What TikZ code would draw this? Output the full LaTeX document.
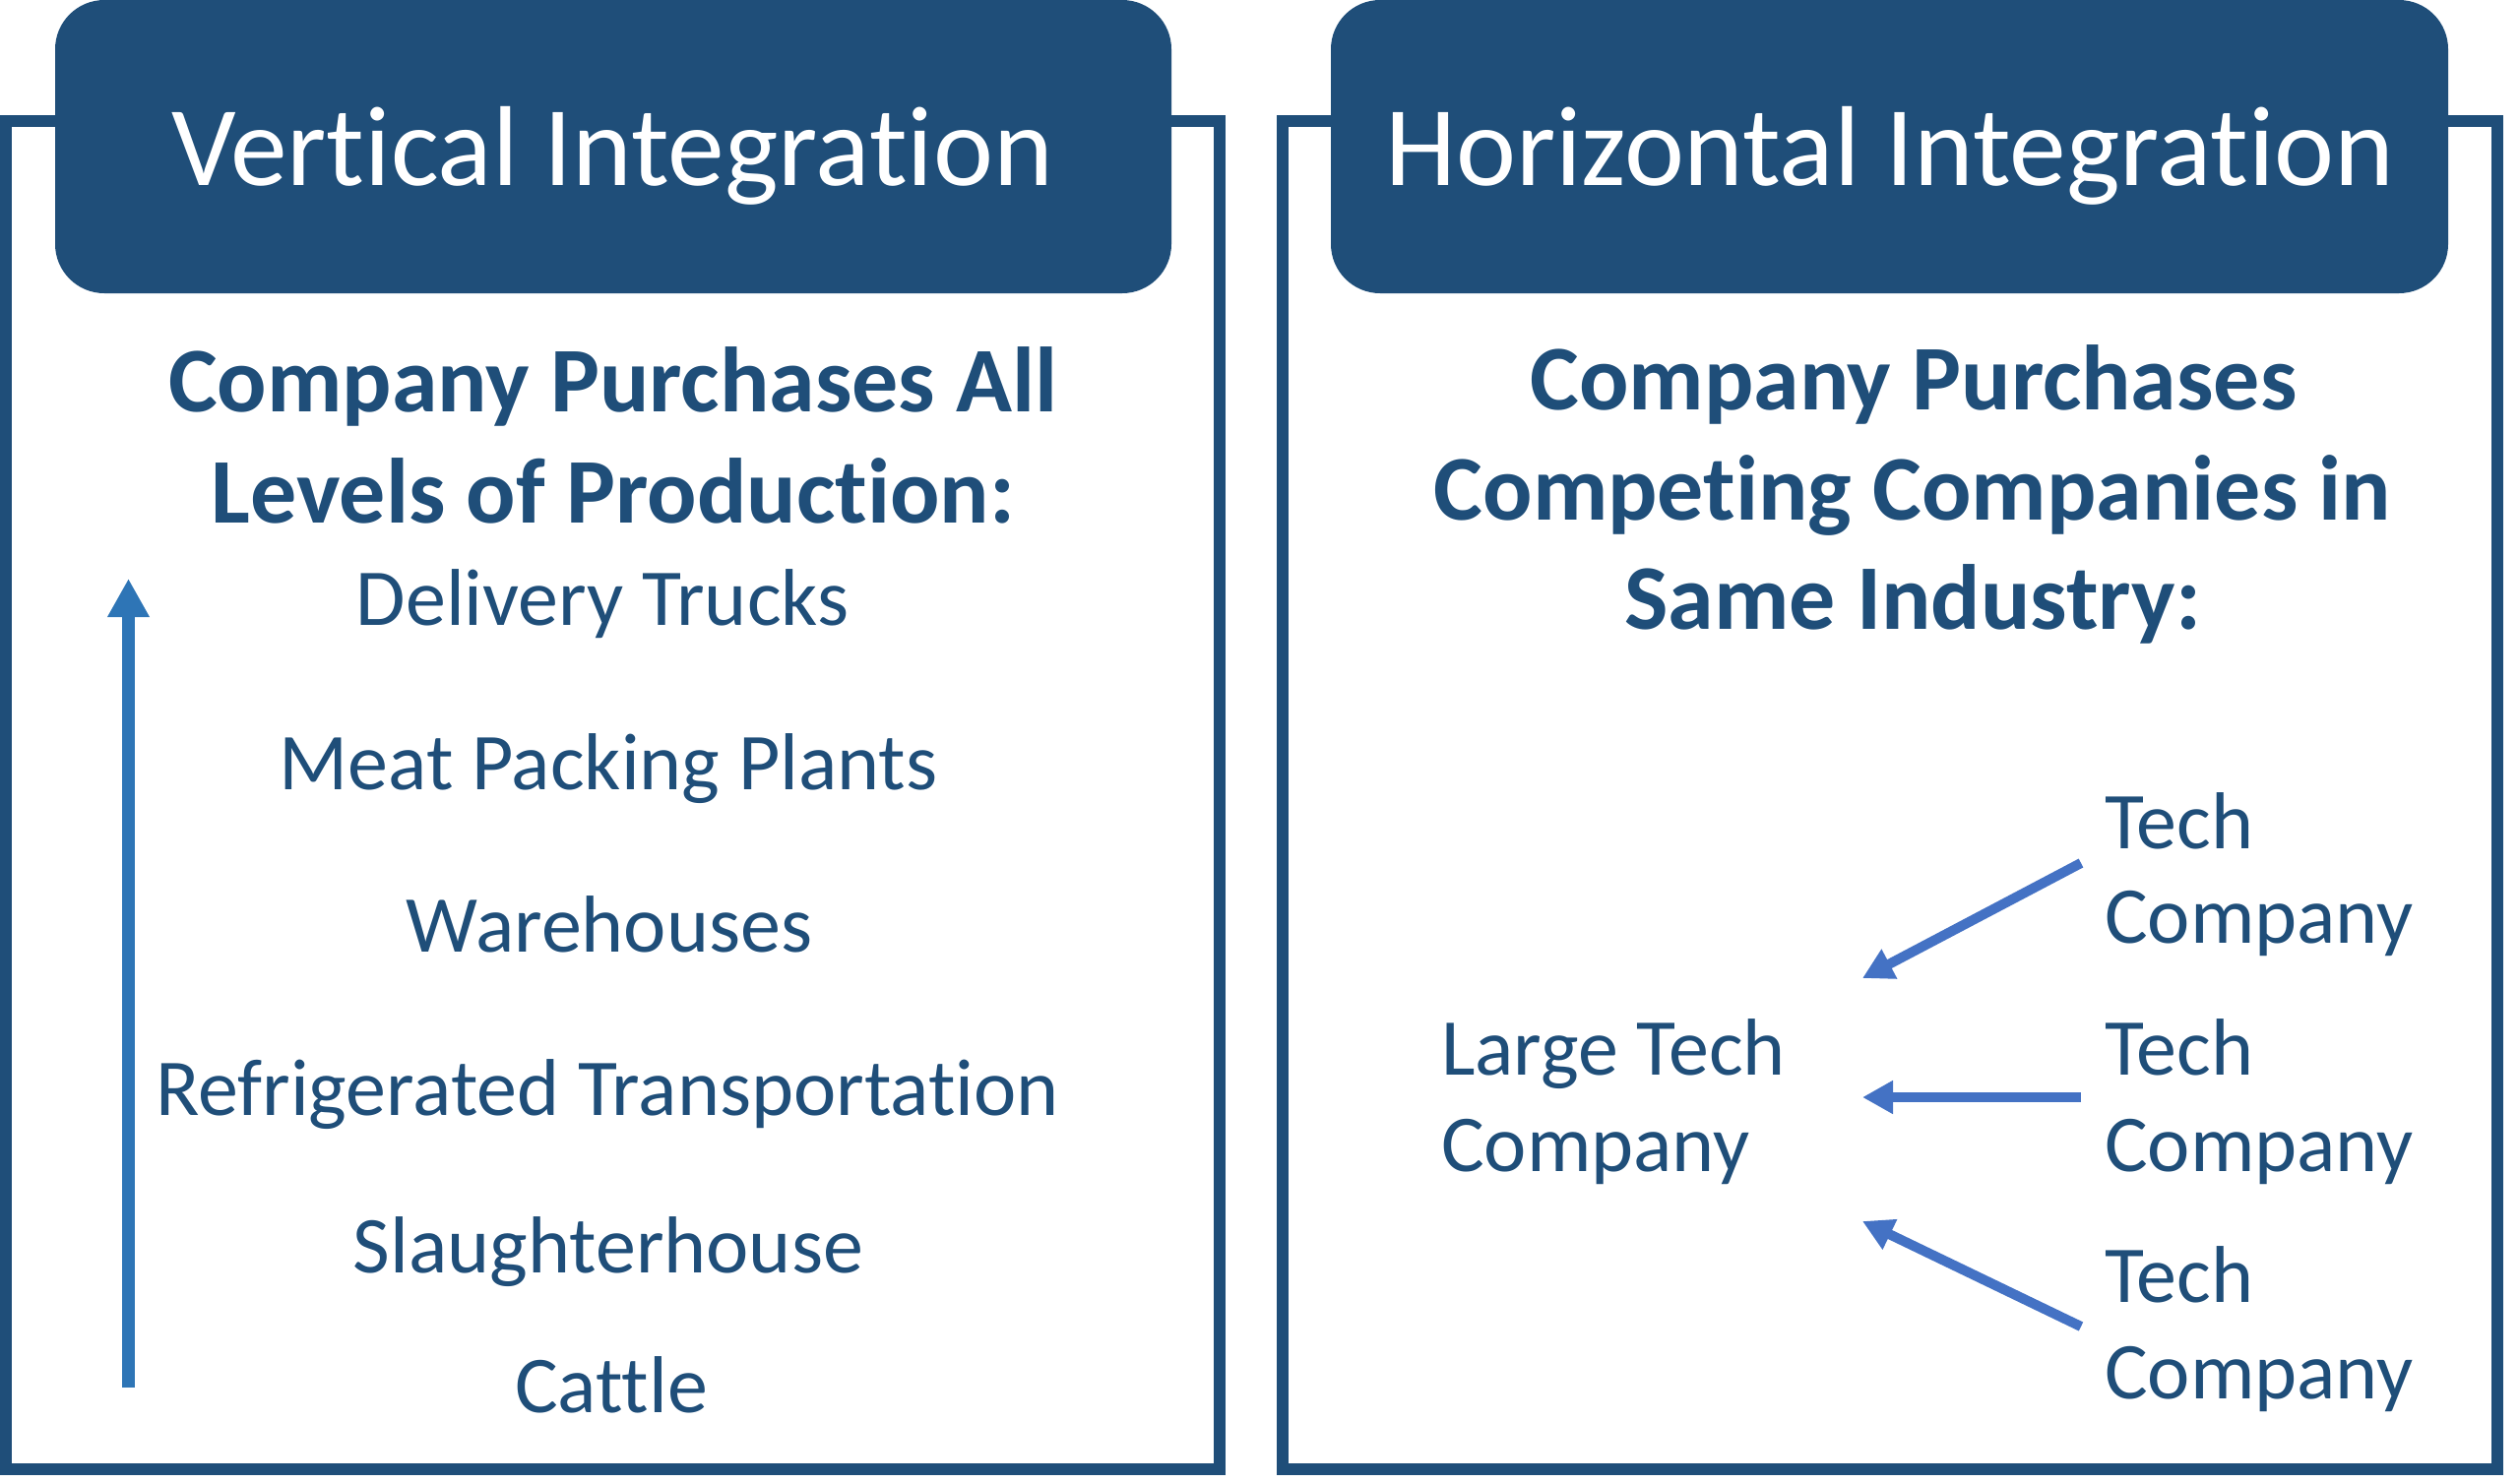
\documentclass[tikz,border=0pt]{standalone}
\usepackage{fontspec}
\setmainfont{Carlito}[Ligatures=NoCommon]
\usetikzlibrary{arrows.meta}
\definecolor{dkblue}{HTML}{1F4E79}
\definecolor{vblue}{HTML}{2E75B6}
\definecolor{hblue}{HTML}{4472C4}
\begin{document}
\begin{tikzpicture}[x=1pt,y=-1pt,
  frame/.style={draw=dkblue, line width=12pt},
  titlebox/.style={fill=dkblue, rounded corners=50pt},
  titletext/.style={text=white, font=\fontsize{115.5}{138}\selectfont, inner sep=0pt, anchor=base},
  headtext/.style={text=dkblue, font=\fontsize{94}{113}\selectfont\bfseries, inner sep=0pt, anchor=base},
  bodytext/.style={text=dkblue, font=\fontsize{82}{98}\selectfont, inner sep=0pt, anchor=base},
  bodyleft/.style={bodytext, anchor=base west},
  uparrow/.style={draw=vblue, line width=13pt, -{Triangle[length=39pt,width=40pt]}},
  harrow/.style={draw=hblue, line width=10pt, -{Triangle[length=31pt,width=32pt]}}
]
\useasboundingbox (0,0) rectangle (2560,1507);
% frames
\draw[frame] (6,122.5) rectangle (1239,1492.5);
\draw[frame] (1302.5,122.5) rectangle (2536.5,1492.5);
% title boxes
\fill[titlebox] (56,0) rectangle (1190,298);
\fill[titlebox] (1352,0) rectangle (2487,298);
\node[titletext] (vt) at (622,188) {Vertical Integration};
\node[titletext] (ht) at (1920,188) {Horizontal Integration};
% left heading
\node[headtext] (vh1) at (623,418) {Company Purchases All};
\node[headtext] (vh2) at (623,531) {Levels of Production:};
% left list
\node[bodytext] (l1) at (612,635) {Delivery Trucks};
\node[bodytext] (l2) at (618,802) {Meat Packing Plants};
\node[bodytext] (l3) at (619,967) {Warehouses};
\node[bodytext] (l4) at (617,1133) {Refrigerated Transportation};
\node[bodytext] (l5) at (618,1293) {Slaughterhouse};
\node[bodytext] (l6) at (621,1435) {Cattle};
% vertical arrow
\coordinate (vs) at (130.5,1410);
\coordinate (ve) at (130.5,588);
\draw[uparrow] (vs) -- (ve);
% right heading
\node[headtext] (hh1) at (1944,416) {Company Purchases};
\node[headtext] (hh2) at (1943,528) {Competing Companies in};
\node[headtext] (hh3) at (1943,639) {Same Industry:};
% right texts
\node[bodyleft] (big1) at (1464,1092) {Large Tech};
\node[bodyleft] (big2) at (1464,1190) {Company};
\node[bodyleft] (ta1) at (2138,862) {Tech};
\node[bodyleft] (ta2) at (2138,958) {Company};
\node[bodyleft] (tb1) at (2138,1092) {Tech};
\node[bodyleft] (tb2) at (2138,1190) {Company};
\node[bodyleft] (tc1) at (2138,1323) {Tech};
\node[bodyleft] (tc2) at (2138,1421) {Company};
% arrows
\coordinate (as) at (2114,877);
\coordinate (ae) at (1892,994);
\coordinate (bs) at (2114,1115);
\coordinate (be) at (1892,1115);
\coordinate (cs) at (2114,1348);
\coordinate (ce) at (1892,1241);
\draw[harrow] (as) -- (ae);
\draw[harrow] (bs) -- (be);
\draw[harrow] (cs) -- (ce);
\end{tikzpicture}
\end{document}
